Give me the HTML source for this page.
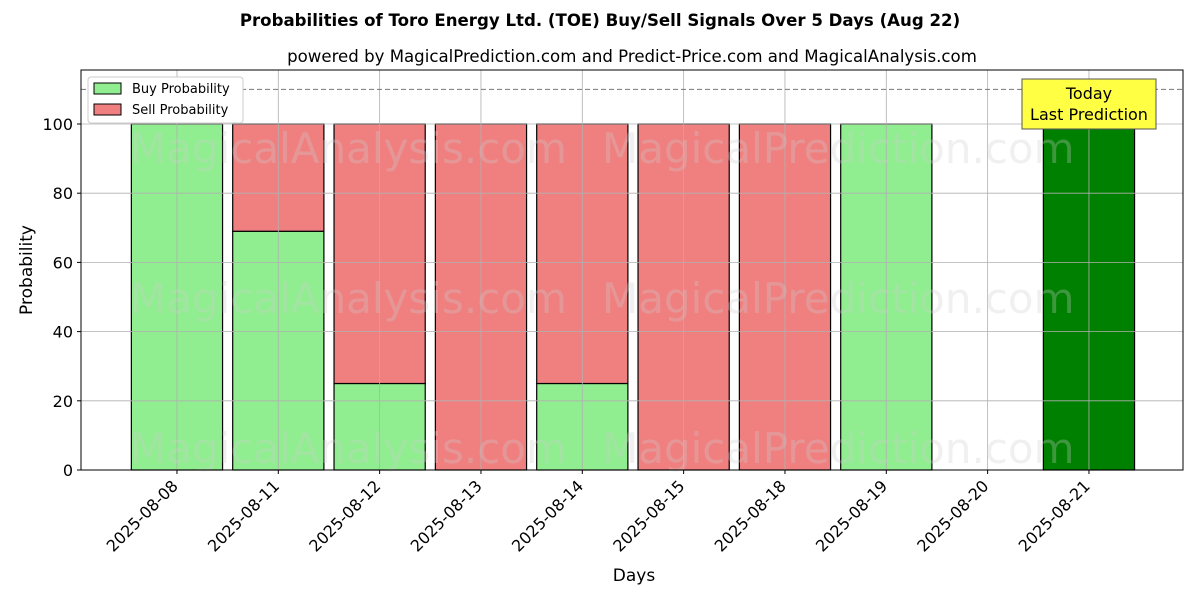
<!DOCTYPE html>
<html><head><meta charset="utf-8"><style>
body{margin:0;background:#fff;}
svg text{font-family:"DejaVu Sans","Liberation Sans",sans-serif;}
</style></head><body>
<svg id="chart" width="1200" height="600" xmlns="http://www.w3.org/2000/svg">
<text x="600" y="26" text-anchor="middle" font-size="16.6" font-weight="bold">Probabilities of Toro Energy Ltd. (TOE) Buy/Sell Signals Over 5 Days (Aug 22)</text>
<text x="632" y="62" text-anchor="middle" font-size="16.6">powered by MagicalPrediction.com and Predict-Price.com and MagicalAnalysis.com</text>
<g id="bars"></g>
<g id="grid"></g>
<g id="wm" fill="#cccccc" fill-opacity="0.3" font-size="42">
<text x="130" y="163">MagicalAnalysis.com</text>
<text x="602" y="163">MagicalPrediction.com</text>
<text x="130" y="313">MagicalAnalysis.com</text>
<text x="602" y="313">MagicalPrediction.com</text>
<text x="130" y="463">MagicalAnalysis.com</text>
<text x="602" y="463">MagicalPrediction.com</text>
</g>
<line x1="81" x2="1183" y1="89.4" y2="89.4" stroke="#777" stroke-dasharray="5,3"/>
<g id="axes"></g>
<rect x="81" y="70" width="1102" height="400" fill="none" stroke="#000"/>
<g>
<rect x="1022" y="79" width="134" height="50" fill="#ffff44" stroke="#555"/>
<text x="1089" y="99" text-anchor="middle" font-size="16">Today</text>
<text x="1089" y="120" text-anchor="middle" font-size="16">Last Prediction</text>
</g>
<g>
<rect x="88" y="77" width="155" height="46" fill="#fff" stroke="#ccc" rx="3"/>
<rect x="94" y="83" width="27" height="11" fill="#90ee90" stroke="#000"/>
<text x="132" y="93" font-size="13">Buy Probability</text>
<rect x="94" y="104" width="27" height="11" fill="#f08080" stroke="#000"/>
<text x="132" y="114" font-size="13">Sell Probability</text>
</g>
<text x="634" y="581" text-anchor="middle" font-size="17">Days</text>
<text transform="translate(32,270) rotate(-90)" text-anchor="middle" font-size="17">Probability</text>
</svg>
<script>
const categories=["2025-08-08","2025-08-11","2025-08-12","2025-08-13","2025-08-14","2025-08-15","2025-08-18","2025-08-19","2025-08-20","2025-08-21"];
const buyValues=[100,69,25,0,25,0,0,100,0,100];
const sellValues=[0,31,75,100,75,100,100,0,0,0];
const todayIndex=9;
const yTicks=[0,20,40,60,80,100];
const NS="http://www.w3.org/2000/svg";
const L=81,R=1183,T=70,B=470;
const step=(R-L)/10.875;
const xs=i=>L+(i+0.947)*step;
const ys=v=>B-v*3.46;
const bw=0.9*step;
function mk(tag,attrs,parent,text){const e=document.createElementNS(NS,tag);for(const k in attrs)e.setAttribute(k,attrs[k]);if(text!==undefined)e.textContent=text;document.getElementById(parent).appendChild(e);return e;}
yTicks.forEach(v=>{
 let g=mk("line",{x1:L,x2:R,y1:ys(v),y2:ys(v),stroke:"#b0b0b0","stroke-width":0.8},"grid");
 
 
 let t=mk("line",{x1:L-4,x2:L,y1:ys(v),y2:ys(v),stroke:"#000"},"axes");
 
 
 let l=mk("text",{x:L-8,y:ys(v)+6,"text-anchor":"end","font-size":16},"axes",String(v));
 
 
});
categories.forEach((c,i)=>{
 const x=xs(i);
 let g=mk("line",{x1:x,x2:x,y1:T,y2:B,stroke:"#b0b0b0","stroke-width":0.8},"grid");
 
 
 let t=mk("line",{x1:x,x2:x,y1:B,y2:B+4,stroke:"#000"},"axes");
 
 
 let l=mk("text",{x:x+2,y:B+17,"text-anchor":"end","font-size":16,transform:`rotate(-45 ${x+2} ${B+17})`},"axes",c);
 
 
 const b=buyValues[i],s=sellValues[i];
 if(b>0){
  let r=mk("rect",{x:x-bw/2,y:ys(b),width:bw,height:ys(0)-ys(b),fill:i===todayIndex?"#008000":"#90ee90",stroke:"#000","stroke-width":1.2},"bars");
  
  
 }
 if(s>0){
  let r=mk("rect",{x:x-bw/2,y:ys(b+s),width:bw,height:ys(b)-ys(b+s),fill:"#f08080",stroke:"#000","stroke-width":1.2},"bars");
  
  
 }
});
</script>
</body></html>
